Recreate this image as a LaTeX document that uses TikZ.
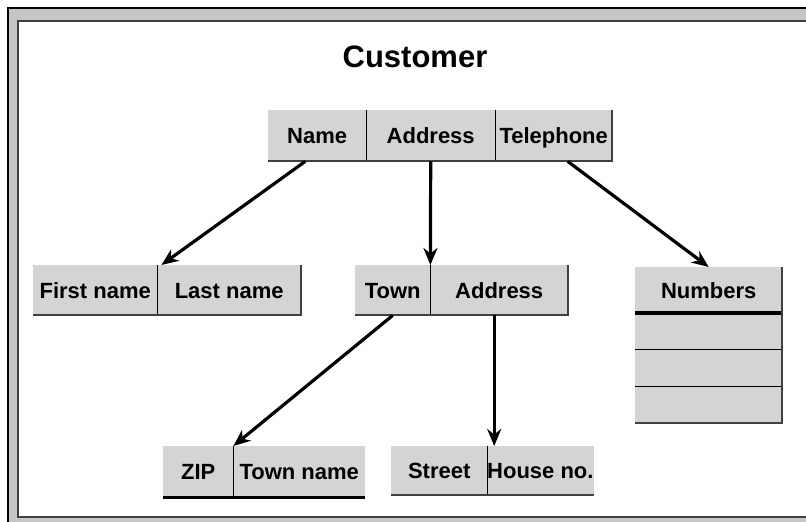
\documentclass[tikz,border=0pt]{standalone}
\usepackage{fontspec}
\setmainfont{Liberation Sans}
\usetikzlibrary{arrows.meta}
\definecolor{cellgray}{RGB}{212,212,212}
\definecolor{framegray}{RGB}{198,198,198}
\definecolor{edgegray}{RGB}{64,64,64}
\tikzset{
  cell/.style={fill=cellgray, anchor=north west, inner sep=0pt, minimum height=51pt,
    text height=16pt, text depth=0pt, font=\fontsize{22}{26}\selectfont\bfseries},
  divider/.style={black, line width=1.5pt},
  edge/.style={edgegray, line width=2pt},
  link/.style={-{Stealth[length=17pt,width=14pt]}, line width=3.2pt}
}
\begin{document}
\begin{tikzpicture}[x=1pt,y=-1pt]
  \useasboundingbox (0,0) rectangle (806,522);
  % frame
  \fill[framegray] (8,8) rectangle (806,522);
  \fill[white] (18,21) rectangle (806,517);
  \draw[line width=2pt] (8,522) -- (8,8) -- (806,8);
  \draw[edgegray, line width=2pt] (806,517) -- (18,517) -- (18,21) -- (806,21);
  \node[font=\fontsize{31}{36}\selectfont\bfseries] (title) at (415,57) {Customer};
  % customer
  \node[cell, minimum width=98pt] (name) at (268,110) {Name};
  \node[cell, minimum width=129pt] (addr) at (366,110) {Address};
  \node[cell, minimum width=117pt] (tel) at (495,110) {Telephone};
  \draw[divider] (name.north east) -- (name.south east);
  \draw[divider] (addr.north east) -- (addr.south east);
  \draw[edge] (name.south west) -- (tel.south east) -- (tel.north east);
  % name
  \node[cell, minimum width=124pt, minimum height=50pt] (first) at (33,265) {First name};
  \node[cell, minimum width=144pt, minimum height=50pt] (last) at (157,265) {Last name};
  \draw[divider] (first.north east) -- (first.south east);
  \draw[edge] (first.south west) -- (last.south east) -- (last.north east);
  % address
  \node[cell, minimum width=75pt, minimum height=50pt] (town) at (355,265) {Town};
  \node[cell, minimum width=138pt, minimum height=50pt] (addr2) at (430,265) {Address};
  \draw[divider] (town.north east) -- (town.south east);
  \draw[edge] (town.south west) -- (addr2.south east) -- (addr2.north east);
  % telephone
  \node[cell, minimum width=147pt, minimum height=46pt] (numbers) at (635,267) {Numbers};
  \node[cell, minimum width=147pt, minimum height=36pt] (row1) at (635,313) {};
  \node[cell, minimum width=147pt, minimum height=37pt] (row2) at (635,349) {};
  \node[cell, minimum width=147pt, minimum height=37pt] (row3) at (635,386) {};
  \draw[black, line width=4pt] (numbers.south west) -- (numbers.south east);
  \draw[divider] (row1.south west) -- (row1.south east);
  \draw[divider] (row2.south west) -- (row2.south east);
  \draw[edge] (row3.south west) -- (row3.south east) -- (numbers.north east);
  % town
  \node[cell, minimum width=70pt] (zip) at (163,446) {ZIP};
  \node[cell, minimum width=132pt] (townname) at (233,446) {Town name};
  \draw[divider] (zip.north east) -- (zip.south east);
  \draw[black, line width=2.5pt] (zip.south west) -- (townname.south east);
  % street
  \node[cell, minimum width=96pt, minimum height=49pt] (street) at (391,446) {Street};
  \node[cell, minimum width=106pt, minimum height=49pt] (house) at (487,446) {House no.};
  \draw[divider] (street.north east) -- (street.south east);
  \draw[edge] (street.south west) -- (house.south east);
  % links
  \draw[link] ([xshift=-12pt]name.south) -- ([xshift=4pt]first.north east);
  \draw[link] (addr.south) -- (town.north east);
  \draw[link] ([xshift=14pt]tel.south) -- (numbers.north);
  \draw[link] (town.south) -- (zip.north east);
  \draw[link] ([xshift=-5pt]addr2.south) -- ([xshift=-5pt]addr2.south |- street.north);
\end{tikzpicture}
\end{document}
